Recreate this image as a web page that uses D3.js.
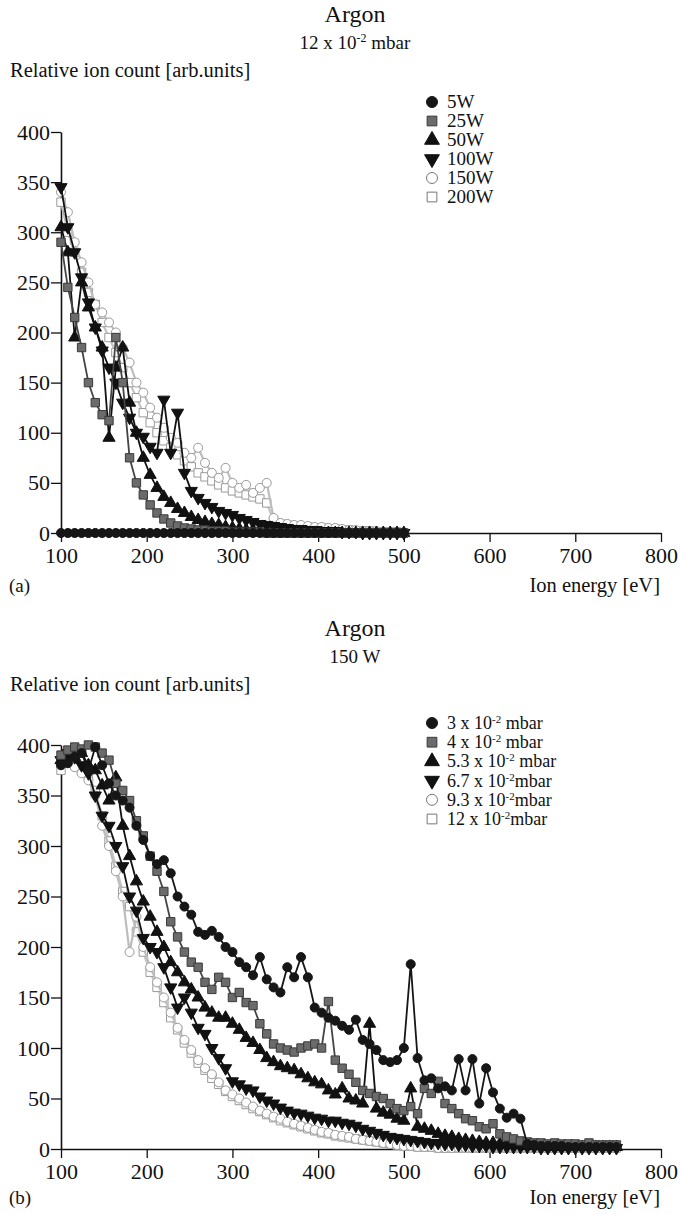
<!DOCTYPE html>
<html>
<head>
<meta charset="utf-8">
<script src="https://cdn.jsdelivr.net/npm/d3@7"></script>
<style>
  body { margin: 0; background: #fff; }
  svg text { font-family: "Liberation Serif", "DejaVu Serif", serif; fill: #111; }
</style>
</head>
<body>
<div id="chart"></div>
<script>
// energy grids (eV)
const energyA = [100,108,116,124,132,140,148,156,164,172,180,188,196,204,212,220,228,236,244,252,
  260,268,276,284,292,300,308,316,324,332,340,348,356,364,372,380,388,396,404,412,
  420,428,436,444,452,460,468,476,484,492,500];
const energyB = [100,108,116,124,132,140,148,156,164,172,180,188,196,204,212,220,228,236,244,252,
  260,268,276,284,292,300,308,316,324,332,340,348,356,364,372,380,388,396,404,412,
  420,428,436,444,452,460,468,476,484,492,500,508,516,524,532,540,548,556,564,572,
  580,588,596,604,612,620,628,636,644,652,660,668,676,684,692,700,708,716,724,732,740,748];

const xTicks = [100,200,300,400,500,600,700,800];
const yTicks = [0,50,100,150,200,250,300,350,400];

// panel (a): 12 x 10^-2 mbar, power series
const w5 = [0,0,0,0,0,0,0,0,0,0, 0,0,0,0,0,0,0,0,0,0, 0,0,0,0,0,0,0,0,0,0, 0,0,0,0,0,0,0,0,0,0, 0,0,0,0,0,0,0,0,0,0, 0];
const w25 = [290,245,215,185,150,130,118,112,195,150, 75,50,38,28,20,14,10,7,5,4, 3,3,2,2,2,1,1,1,1,1, 0,0,0,0,0,0,0,0,0,0, 0,0,0,0,0,0,0,0,0,0, 0];
const w50 = [305,280,195,250,225,205,185,95,165,185, 130,100,75,58,45,36,30,24,20,16, 13,11,9,8,6,5,4,3,3,2, 2,2,1,1,1,1,0,0,0,0, 0,0,0,0,0,0,0,0,0,0, 0];
const w100 = [345,305,280,255,230,205,182,165,150,130, 115,100,96,86,80,133,80,120,60,42, 35,30,26,22,20,18,15,13,11,9, 8,7,6,5,4,4,3,3,2,2, 2,1,1,1,0,0,0,0,0,0, 0];
const w150 = [340,320,290,270,250,228,220,210,200,185, 170,150,140,125,115,105,95,90,80,75, 85,70,60,55,65,50,45,48,40,45, 50,15,10,9,8,8,7,6,6,5, 5,4,3,3,2,2,2,1,1,1, 0];
const w200 = [330,300,280,260,240,228,210,195,180,165, 150,135,120,110,100,92,85,78,72,66, 60,56,52,48,45,42,40,38,36,34, 30,12,9,8,7,6,6,5,5,4, 4,3,3,2,2,2,1,1,1,1, 0];

// panel (b): 150 W, pressure series
const p3 = [380,382,388,392,375,398,380,362,350,345, 338,320,306,290,282,286,273,250,240,232,
  215,212,216,210,200,195,185,180,172,190, 168,160,155,180,170,190,170,140,135,130,
  127,122,118,128,108,104,98,88,86,88, 100,183,90,68,70,60,62,58,89,58,
  89,45,80,56,40,31,35,30,5,4, 3,3,3,3,2,2,2,2,2,2, 2,2];
const p4 = [390,395,398,396,400,398,392,385,362,355, 345,325,310,290,275,255,225,210,195,185,
  180,165,158,170,165,150,155,145,142,124, 114,104,100,98,96,100,102,104,100,146,
  88,80,74,66,58,55,52,50,45,40, 38,42,35,60,55,67,45,40,35,30,
  28,22,20,25,15,12,10,8,7,6, 6,5,6,5,5,5,4,6,4,4, 4,4];
const p53 = [385,390,388,392,380,375,360,345,368,320, 290,265,245,230,215,200,185,175,165,158,
  150,140,135,130,130,124,118,110,105,98, 90,86,82,80,78,74,70,66,64,58,
  54,60,50,48,45,124,40,36,34,30, 28,60,22,20,18,15,13,12,10,9,
  8,7,6,6,5,5,4,4,3,3, 3,2,2,2,2,2,2,2,2,2, 2,2];
const p67 = [385,392,388,380,372,350,330,320,300,280, 250,236,209,200,195,180,160,140,150,135,
  120,114,100,90,80,67,64,60,58,52, 48,45,41,38,36,35,33,31,30,28,
  28,26,25,23,20,18,16,14,12,11, 10,9,8,7,6,6,5,5,4,4,
  3,3,3,2,2,2,2,2,2,2, 1,1,1,1,1,1,1,1,1,1, 1,1];
const p93 = [380,385,378,372,365,350,320,300,275,250, 195,230,200,180,165,150,135,120,108,98,
  88,80,74,66,58,54,50,46,42,38, 35,32,30,27,25,23,21,19,17,16,
  14,13,12,10,9,8,7,6,5,4, 3,3,2,2,2,1,1,1,1,1,
  1,1,1,1,1,1,1,1,1,1, 1,1,1,1,1,1,1,1,1,1, 1,1];
const p12 = [375,382,380,375,370,355,330,305,280,255, 240,215,195,175,160,145,130,118,105,95,
  85,78,70,64,57,52,48,44,40,37, 34,31,28,26,24,22,20,18,16,15,
  13,12,11,10,9,8,7,6,5,4, 3,3,2,2,2,1,1,1,1,1,
  1,1,1,1,1,1,1,1,1,1, 1,1,1,1,1,1,1,1,1,1, 1,1];

const labelsA = ["5W","25W","50W","100W","150W","200W"];
const labelsB = [["3 x 10","-2"," mbar"],["4 x 10","-2"," mbar"],["5.3 x 10","-2"," mbar"],
                 ["6.7 x 10","-2","mbar"],["9.3 x 10","-2","mbar"],["12 x 10","-2","mbar"]];

// marker styles, same order for both panels
const styles = [
  {sym: d3.symbolCircle,   rot: 0,   fill: "#161616", stroke: "#161616", line: "#161616"},
  {sym: d3.symbolSquare,   rot: 0,   fill: "#6b6b6b", stroke: "#3a3a3a", line: "#444"},
  {sym: d3.symbolTriangle, rot: 0,   fill: "#111",    stroke: "#111",    line: "#111"},
  {sym: d3.symbolTriangle, rot: 180, fill: "#111",    stroke: "#111",    line: "#111"},
  {sym: d3.symbolCircle,   rot: 0,   fill: "#fff",    stroke: "#9a9a9a", line: "#bdbdbd"},
  {sym: d3.symbolSquare,   rot: 0,   fill: "#fff",    stroke: "#9a9a9a", line: "#c4c4c4"}
];

const svg = d3.select("#chart").append("svg")
  .attr("width", 680)
  .attr("height", 1214);

function drawPanel(cfg) {
  const xScale = d3.scaleLinear().domain([100, 800]).range([61, 661]);
  const yScale = d3.scaleLinear().domain([0, 400]).range([cfg.y0, cfg.y400]);
  const g = svg.append("g");

  // titles
  g.append("text").attr("x", 355).attr("y", cfg.titleY)
    .attr("text-anchor", "middle").style("font-size", "24px").text("Argon");
  const sub = g.append("text").attr("x", 355).attr("y", cfg.titleY + 27)
    .attr("text-anchor", "middle").style("font-size", "19px");
  cfg.subtitle(sub);
  g.append("text").attr("x", 10).attr("y", cfg.titleY + 55)
    .style("font-size", "20.5px").text("Relative ion count [arb.units]");

  // axes
  const xAxis = g.append("g")
    .attr("transform", "translate(0," + cfg.y0 + ")")
    .call(d3.axisBottom(xScale).tickValues(xTicks).tickSize(9).tickPadding(5).tickSizeOuter(0));
  const yAxis = g.append("g")
    .attr("transform", "translate(61,0)")
    .call(d3.axisLeft(yScale).tickValues(yTicks).tickSize(10).tickPadding(1).tickSizeOuter(0));
  [xAxis, yAxis].forEach(a => {
    a.select(".domain").attr("stroke", "#111").attr("stroke-width", 1.6);
    a.selectAll(".tick line").attr("stroke", "#111").attr("stroke-width", 1.3);
    a.selectAll("text").style("font-size", "22px").attr("fill", "#111")
      .style("font-family", "'Liberation Serif', serif");
  });

  g.append("text").attr("x", 660).attr("y", cfg.bottomY)
    .attr("text-anchor", "end").style("font-size", "20.5px").text("Ion energy [eV]");
  g.append("text").attr("x", 9).attr("y", cfg.bottomY)
    .style("font-size", "19px").text(cfg.tag);

  // series, lightest first so the dark ones stay on top
  const line = d3.line()
    .x((d, i) => xScale(cfg.energy[i]))
    .y(d => yScale(d));

  for (let k = cfg.series.length - 1; k >= 0; k--) {
    const s = styles[k];
    const values = cfg.series[k];
    g.append("path")
      .attr("fill", "none")
      .attr("stroke", s.line)
      .attr("stroke-width", k >= 4 ? 2.2 : 1.8)
      .attr("d", line(values));
    g.selectAll(null)
      .data(values)
      .enter()
      .append("path")
      .attr("d", d3.symbol().type(s.sym).size(s.sym === d3.symbolSquare ? 70 : 64))
      .attr("transform", (d, i) => "translate(" + xScale(cfg.energy[i]) + "," + yScale(d) + ") rotate(" + s.rot + ")")
      .attr("fill", s.fill)
      .attr("stroke", s.stroke)
      .attr("stroke-width", 1);
  }

  // legend
  const legend = g.selectAll(".legend")
    .data(cfg.labels)
    .enter()
    .append("g")
    .attr("class", "legend")
    .attr("transform", (d, i) => "translate(" + cfg.legendX + "," + (cfg.legendY + i * cfg.legendStep) + ")");

  legend.append("path")
    .attr("d", (d, i) => d3.symbol().type(styles[i].sym).size(95)())
    .attr("transform", (d, i) => "rotate(" + styles[i].rot + ")")
    .attr("fill", (d, i) => styles[i].fill)
    .attr("stroke", (d, i) => i >= 4 ? "#777" : styles[i].stroke)
    .attr("stroke-width", 1);

  legend.append("text")
    .attr("x", 15)
    .attr("y", 6)
    .style("font-size", cfg.legendFont)
    .each(function(d) { cfg.legendText(d3.select(this), d); });
}

drawPanel({
  y0: 533, y400: 132, titleY: 22, bottomY: 592, tag: "(a)",
  energy: energyA,
  series: [w5, w25, w50, w100, w150, w200],
  labels: labelsA,
  legendX: 432, legendY: 102, legendStep: 19, legendFont: "19px",
  subtitle: t => {
    t.append("tspan").text("12 x 10");
    t.append("tspan").attr("dy", -7).style("font-size", "12px").text("-2");
    t.append("tspan").attr("dy", 7).text(" mbar");
  },
  legendText: (t, d) => t.text(d)
});

drawPanel({
  y0: 1149, y400: 745, titleY: 636, bottomY: 1204, tag: "(b)",
  energy: energyB,
  series: [p3, p4, p53, p67, p93, p12],
  labels: labelsB,
  legendX: 432, legendY: 723, legendStep: 19.2, legendFont: "18px",
  subtitle: t => t.text("150 W"),
  legendText: (t, d) => {
    t.append("tspan").text(d[0]);
    t.append("tspan").attr("dy", -6).style("font-size", "11px").text(d[1]);
    t.append("tspan").attr("dy", 6).text(d[2]);
  }
});
</script>
</body>
</html>
